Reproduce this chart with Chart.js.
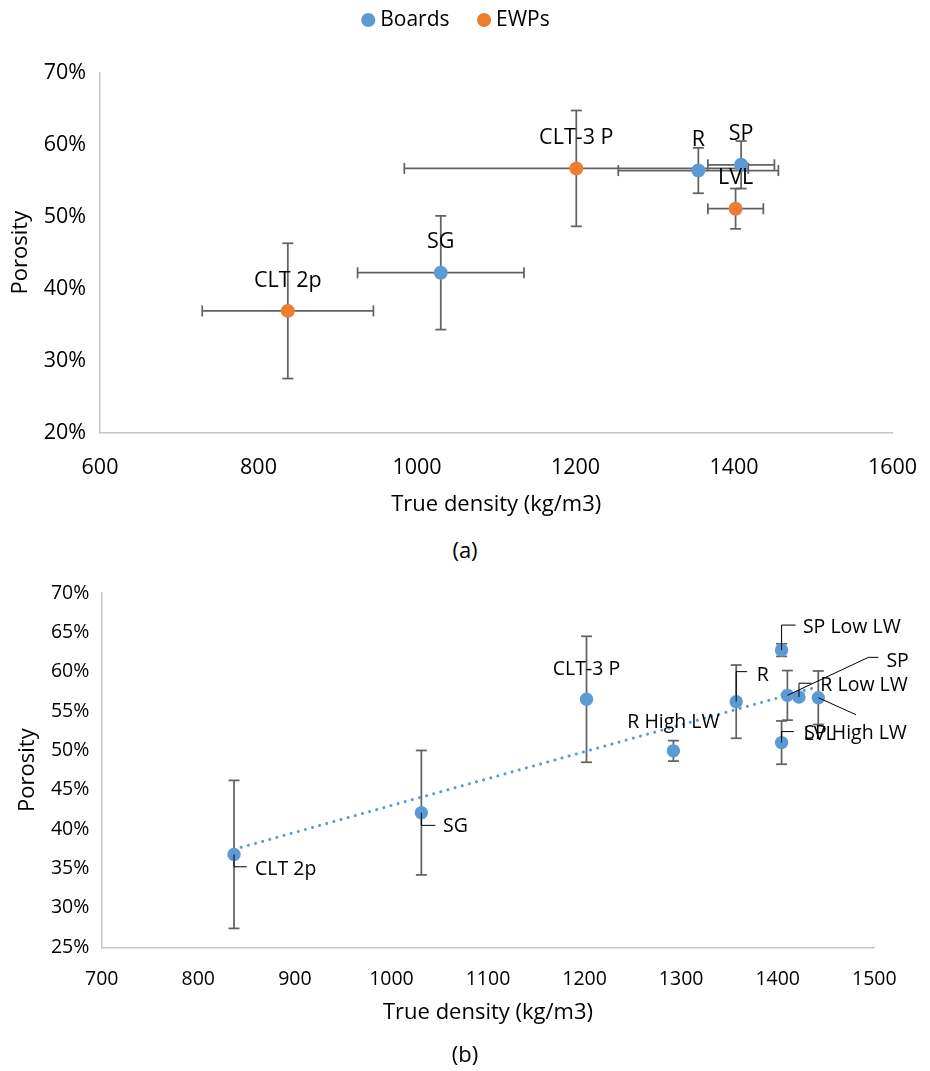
<!DOCTYPE html>
<html>
<head>
<meta charset="utf-8">
<script src="https://cdn.jsdelivr.net/npm/chart.js@4.4.1/dist/chart.umd.min.js"></script>
<style>
html,body{margin:0;padding:0;background:#fff;}
#wrap{position:relative;width:930px;height:1071px;font-family:"Open Sans",sans-serif;overflow:hidden;}
#boxA{position:absolute;left:0;top:0;width:930px;height:530px;}
#boxB{position:absolute;left:0;top:560px;width:930px;height:480px;}
.cap{position:absolute;left:0;width:930px;text-align:center;font-size:22px;line-height:22px;color:#000;}
</style>
</head>
<body>
<div id="wrap">
  <div id="boxA"><canvas id="chartA"></canvas></div>
  <div class="cap" style="top:538px;">(a)</div>
  <div id="boxB"><canvas id="chartB"></canvas></div>
  <div class="cap" style="top:1042px;">(b)</div>
</div>
<script>
// ---------- Chart (a) data ----------
const boardsNamesA = ['SG', 'R', 'SP'];
const boardsDensityA = [1030, 1355, 1409];
const boardsPorosityA = [42.2, 56.4, 57.2];
const boardsDensityErrA = [105, 101, 42];
const boardsPorosityErrA = [7.9, 3.15, 3.3];

const ewpNamesA = ['CLT 2p', 'CLT-3 P', 'LVL'];
const ewpDensityA = [837, 1201, 1402];
const ewpPorosityA = [36.9, 56.7, 51.1];
const ewpDensityErrA = [108, 217, 35];
const ewpPorosityErrA = [9.4, 8.05, 2.8];

const xTicksA = [600, 800, 1000, 1200, 1400, 1600];
const yTicksA = [20, 30, 40, 50, 60, 70];

// ---------- Chart (b) data ----------
const namesB = ['CLT 2p', 'SG', 'CLT-3 P', 'R High LW', 'R', 'SP Low LW', 'SP', 'R Low LW', 'SP High LW', 'LVL'];
const densityB = [837, 1031, 1202, 1292, 1357, 1404, 1410, 1422, 1442, 1404];
const porosityB = [36.8, 42.1, 56.5, 49.95, 56.2, 62.75, 57.0, 56.8, 56.7, 51.0];
const porosityErrB = [9.4, 7.9, 8.0, 1.3, 4.65, 0.8, 3.15, 0, 3.4, 2.75];

const xTicksB = [700, 800, 900, 1000, 1100, 1200, 1300, 1400, 1500];
const yTicksB = [25, 30, 35, 40, 45, 50, 55, 60, 65, 70];

// ---------- styling / helpers ----------
const FONT = '"Open Sans", sans-serif';
const BLUE = '#5B9BD5';
const ORANGE = '#ED7D31';
const AXIS = '#C6C6C6';
const ERR = '#626262';

function pts(xs, ys) { return xs.map((x, i) => ({x: x, y: ys[i]})); }

// least squares linear trendline (as in the spreadsheet "linear trendline")
function trend(xs, ys) {
  const n = xs.length;
  const mx = xs.reduce((a, b) => a + b, 0) / n;
  const my = ys.reduce((a, b) => a + b, 0) / n;
  let sxy = 0, sxx = 0;
  for (let i = 0; i < n; i++) { sxy += (xs[i] - mx) * (ys[i] - my); sxx += (xs[i] - mx) ** 2; }
  const b = sxy / sxx, a = my - b * mx;
  const x0 = Math.min(...xs), x1 = Math.max(...xs);
  return [{x: x0, y: a + b * x0}, {x: x1, y: a + b * x1}];
}

const errorBars = {
  id: 'errorBars',
  beforeDatasetDraw(chart, args, opts) {
    const ds = chart.data.datasets[args.index];
    if (!ds.errX && !ds.errY) return;
    const xs = chart.scales.x, ys = chart.scales.y, ctx = chart.ctx, c = opts.cap;
    ctx.save();
    ctx.strokeStyle = opts.color; ctx.lineWidth = opts.width; ctx.lineCap = 'butt';
    const seg = (x1, y1, x2, y2) => { ctx.beginPath(); ctx.moveTo(x1, y1); ctx.lineTo(x2, y2); ctx.stroke(); };
    ds.data.forEach((p, i) => {
      const px = xs.getPixelForValue(p.x), py = ys.getPixelForValue(p.y);
      const ex = ds.errX ? ds.errX[i] : 0, ey = ds.errY ? ds.errY[i] : 0;
      if (ex) {
        const a = xs.getPixelForValue(p.x - ex), b = xs.getPixelForValue(p.x + ex);
        seg(a, py, b, py); seg(a, py - c, a, py + c); seg(b, py - c, b, py + c);
      }
      if (ey) {
        const a = ys.getPixelForValue(p.y + ey), b = ys.getPixelForValue(p.y - ey);
        seg(px, a, px, b); seg(px - c, a, px + c, a); seg(px - c, b, px + c, b);
      }
    });
    ctx.restore();
  }
};

const pointLabels = {
  id: 'pointLabels',
  afterDatasetsDraw(chart, args, opts) {
    const ctx = chart.ctx, xs = chart.scales.x, ys = chart.scales.y;
    ctx.save();
    ctx.font = opts.size + 'px ' + FONT;
    ctx.fillStyle = '#000';
    ctx.textBaseline = 'alphabetic';
    chart.data.datasets.forEach(ds => {
      if (!ds.names) return;
      ds.data.forEach((p, i) => {
        const name = ds.names[i];
        const L = opts.layout[name] || opts.layout['*'];
        const px = xs.getPixelForValue(p.x), py = ys.getPixelForValue(p.y);
        if (L.leader) {
          ctx.strokeStyle = '#000'; ctx.lineWidth = 1;
          ctx.beginPath();
          L.leader.forEach((q, k) => k ? ctx.lineTo(px + q[0], py + q[1]) : ctx.moveTo(px + q[0], py + q[1]));
          ctx.stroke();
        }
        ctx.textAlign = L.align;
        ctx.fillText(name, px + L.dx, py + L.dy + 0.357 * opts.size);
      });
    });
    ctx.restore();
  }
};

const legendSpace = {
  id: 'legendSpace',
  beforeInit(chart, args, opts) {
    const lg = chart.legend; if (!lg) return;
    const fit = lg.fit;
    lg.fit = function () { fit.call(this); this.height += opts.extra; };
  },
  afterLayout(chart, args, opts) {
    const lg = chart.legend; if (!lg) return;
    lg.top -= opts.shiftY; lg.bottom -= opts.shiftY;
    lg.left += opts.shiftX; lg.right += opts.shiftX;
  }
};

Chart.defaults.font.family = FONT;
Chart.defaults.color = '#000';

// label offset below the axis is given as an (undrawn) tick length so it does not widen the side padding
function scaleX(min, max, ticks, size, offset, height, titlePad) {
  return {
    type: 'linear', min: min, max: max,
    afterBuildTicks: s => { s.ticks = ticks.map(v => ({value: v})); },
    afterFit: s => { s.height = height; },
    ticks: {font: {size: size}, color: '#000', padding: 0, maxRotation: 0, callback: v => String(v)},
    grid: {display: false, drawTicks: true, tickLength: offset},
    border: {display: true, color: AXIS, width: 1.5},
    title: {display: true, text: 'True density (kg/m3)', color: '#000', font: {size: 22}, padding: {top: 0, bottom: titlePad}}
  };
}
function scaleY(min, max, ticks, size, pad, width, titlePad) {
  return {
    type: 'linear', min: min, max: max,
    afterBuildTicks: s => { s.ticks = ticks.map(v => ({value: v})); },
    afterFit: s => { s.width = width; },
    ticks: {font: {size: size}, color: '#000', padding: pad, callback: v => v + '%'},
    grid: {display: false, drawTicks: false},
    border: {display: true, color: AXIS, width: 1.5},
    title: {display: true, text: 'Porosity', color: '#000', font: {size: 22}, padding: {top: titlePad, bottom: 0}}
  };
}

// ---------- Chart (a) ----------
new Chart(document.getElementById('chartA'), {
  type: 'scatter',
  data: {
    datasets: [
      {label: 'Boards', data: pts(boardsDensityA, boardsPorosityA), names: boardsNamesA,
       errX: boardsDensityErrA, errY: boardsPorosityErrA,
       backgroundColor: BLUE, borderColor: BLUE, pointRadius: 7, pointHoverRadius: 7, pointBorderWidth: 0},
      {label: 'EWPs', data: pts(ewpDensityA, ewpPorosityA), names: ewpNamesA,
       errX: ewpDensityErrA, errY: ewpPorosityErrA,
       backgroundColor: ORANGE, borderColor: ORANGE, pointRadius: 7, pointHoverRadius: 7, pointBorderWidth: 0}
    ]
  },
  options: {
    responsive: true, maintainAspectRatio: false, animation: false, events: [],
    layout: {padding: {top: 0, right: 37.5, bottom: 0, left: 0}},
    scales: {
      x: scaleX(600, 1600, xTicksA, 21.5, 22.5, 97.5, 12),
      y: scaleY(20, 70, yTicksA, 21.5, 14, 100, 8)
    },
    plugins: {
      legend: {display: true, position: 'top',
        labels: {usePointStyle: true, pointStyle: 'circle', boxWidth: 3, boxHeight: 10, padding: 33,
                 color: '#000', font: {size: 21}}},
      tooltip: {enabled: false},
      legendSpace: {extra: 8.7, shiftY: 23.5, shiftX: 12},
      errorBars: {color: ERR, width: 1.75, cap: 5.5},
      pointLabels: {size: 21.5, layout: {'*': {dx: 0, dy: -32, align: 'center'}}}
    }
  },
  plugins: [legendSpace, errorBars, pointLabels]
});

// ---------- Chart (b) ----------
new Chart(document.getElementById('chartB'), {
  type: 'scatter',
  data: {
    datasets: [
      {label: 'Porosity', data: pts(densityB, porosityB), names: namesB, errY: porosityErrB,
       backgroundColor: BLUE, borderColor: BLUE, pointRadius: 6.7, pointHoverRadius: 6.7, pointBorderWidth: 0},
      {label: 'Linear trend', type: 'line', data: trend(densityB, porosityB), showLine: true,
       borderColor: BLUE, borderWidth: 3, borderDash: [0.1, 7.3], borderCapStyle: 'round',
       pointRadius: 0, fill: false, tension: 0}
    ]
  },
  options: {
    responsive: true, maintainAspectRatio: false, animation: false, events: [],
    layout: {padding: {top: 33, right: 55.7, bottom: 0, left: 0}},
    scales: {
      x: scaleX(700, 1500, xTicksB, 19.5, 20.3, 92.7, 13.8),
      y: scaleY(25, 70, yTicksB, 19.5, 12.4, 101.7, 15)
    },
    plugins: {
      legend: {display: false},
      tooltip: {enabled: false},
      errorBars: {color: ERR, width: 1.75, cap: 5.5},
      pointLabels: {size: 19.5, layout: {
        'CLT 2p':     {dx: 21,   dy: 14,    align: 'left',   leader: [[0, 0], [0, 12.4], [12.7, 12.4]]},
        'SG':         {dx: 21.6, dy: 12.8,  align: 'left',   leader: [[0, 0], [0, 12.7], [14, 12.7]]},
        'CLT-3 P':    {dx: 0,    dy: -31.5, align: 'center'},
        'R High LW':  {dx: 0,    dy: -29.7, align: 'center'},
        'R':          {dx: 20.6, dy: -27.7, align: 'left',   leader: [[0, 0], [0, -30], [11, -30]]},
        'SP Low LW':  {dx: 21.3, dy: -23.7, align: 'left',   leader: [[0, 0], [0, -25], [14, -25]]},
        'SP':         {dx: 99,   dy: -35.7, align: 'left',   leader: [[0, 0], [81, -38], [91, -38]]},
        'R Low LW':   {dx: 21.4, dy: -13,   align: 'left',   leader: [[0, 0], [0, -13.7], [12.4, -13.7]]},
        'SP High LW': {dx: -14,  dy: 34.5,  align: 'left',   leader: [[0, 0], [37.7, 17]]},
        'LVL':        {dx: 22,   dy: -10,   align: 'left',   leader: [[0, 0], [0, -11], [12.3, -11]]}
      }}
    }
  },
  plugins: [errorBars, pointLabels]
});
</script>
</body>
</html>
